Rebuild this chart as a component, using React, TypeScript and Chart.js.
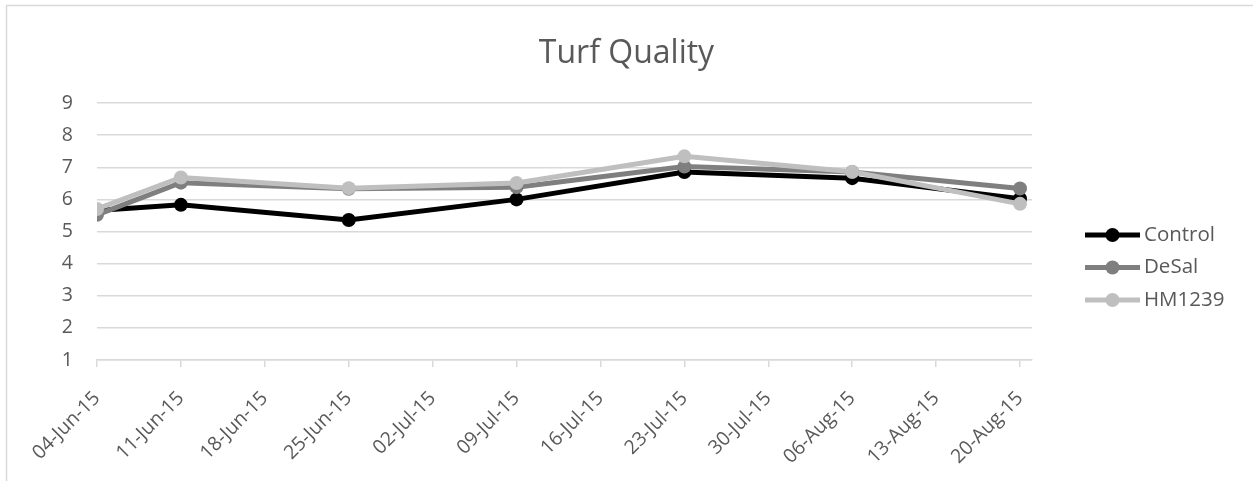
import React, { useEffect, useRef } from "react";
import { Chart, registerables } from "chart.js";

Chart.register(...registerables);

// ---- data ----
const sampleDates = ["2015-06-04", "2015-06-11", "2015-06-25", "2015-07-09", "2015-07-23", "2015-08-06", "2015-08-20"];
const controlValues = [5.65, 5.83, 5.36, 6.0, 6.85, 6.66, 6.02];
const desalValues = [5.52, 6.52, 6.33, 6.38, 7.02, 6.85, 6.34];
const hm1239Values = [5.7, 6.68, 6.35, 6.51, 7.34, 6.86, 5.86];
const seriesNames = ["Control", "DeSal", "HM1239"];
const seriesColors = ["#000000", "#7f7f7f", "#bfbfbf"];
const xTickLabels = [
  "04-Jun-15", "11-Jun-15", "18-Jun-15", "25-Jun-15", "02-Jul-15", "09-Jul-15",
  "16-Jul-15", "23-Jul-15", "30-Jul-15", "06-Aug-15", "13-Aug-15", "20-Aug-15",
];
const axisStartDate = "2015-06-04";
const axisEndDate = "2015-08-21";
const yMin = 1;
const yMax = 9;

const DAY = 86400000;
const dayOf = (s: string) => (Date.parse(s + "T00:00:00Z") - Date.parse(axisStartDate + "T00:00:00Z")) / DAY;

const FONT = "'Open Sans', 'Noto Sans', sans-serif";
const TEXT = "#595959";
const GRID = "#d9d9d9";

const legendPlugin = {
  id: "excelLegend",
  afterDraw(chart: any) {
    const ctx = chart.ctx;
    const rows = [235, 267.5, 300];
    const x0 = 1085;
    const x1 = 1140;
    ctx.save();
    chart.data.datasets.forEach((ds: any, i: number) => {
      const y = rows[i];
      ctx.strokeStyle = ds.borderColor;
      ctx.lineWidth = 5;
      ctx.beginPath();
      ctx.moveTo(x0, y);
      ctx.lineTo(x1, y);
      ctx.stroke();
      ctx.fillStyle = ds.borderColor;
      ctx.beginPath();
      ctx.arc((x0 + x1) / 2, y, 7, 0, Math.PI * 2);
      ctx.fill();
      ctx.fillStyle = TEXT;
      ctx.font = `20.5px ${FONT}`;
      ctx.textBaseline = "middle";
      ctx.textAlign = "left";
      ctx.fillText(ds.label, x1 + 4, y);
    });
    ctx.restore();
  },
};

const borderPlugin = {
  id: "outerBorder",
  beforeDraw(chart: any) {
    const ctx = chart.ctx;
    ctx.save();
    ctx.fillStyle = "#ffffff";
    ctx.fillRect(0, 0, chart.width, chart.height);
    ctx.strokeStyle = GRID;
    ctx.lineWidth = 1.5;
    ctx.strokeRect(6.5, 5.5, chart.width + 20, chart.height + 20);
    ctx.restore();
  },
};

export default function App() {
  const ref = useRef<HTMLCanvasElement | null>(null);

  useEffect(() => {
    if (!ref.current) return;
    const series = [controlValues, desalValues, hm1239Values];
    const chart = new Chart(ref.current, {
      type: "line",
      data: {
        datasets: series.map((vals, i) => ({
          label: seriesNames[i],
          data: vals.map((v, j) => ({ x: dayOf(sampleDates[j]), y: v })),
          borderColor: seriesColors[i],
          backgroundColor: seriesColors[i],
          pointBackgroundColor: seriesColors[i],
          pointBorderWidth: 0,
          pointRadius: 7,
          borderWidth: 5,
          tension: 0,
          order: series.length - i,
          yAxisID: "y",
        })),
      },
      options: {
        responsive: false,
        animation: false,
        layout: { padding: 0 },
        plugins: {
          legend: { display: false },
          tooltip: { enabled: false },
          title: {
            display: true,
            text: "Turf Quality",
            color: TEXT,
            font: { family: FONT, size: 32, weight: "normal" },
            padding: { top: 35, bottom: 29.6 },
          },
        },
        scales: {
          x: {
            type: "linear",
            min: dayOf(axisStartDate),
            max: dayOf(axisEndDate),
            afterFit: (s: any) => { s.height = 121; },
            ticks: {
              stepSize: 7,
              includeBounds: false,
              autoSkip: false,
              maxRotation: 45,
              minRotation: 45,
              color: TEXT,
              font: { family: FONT, size: 19.5 },
              padding: 20,
              callback: (_v: any, idx: number) => xTickLabels[idx],
            },
            grid: { drawOnChartArea: false, drawTicks: true, tickLength: 7, color: GRID, lineWidth: 1.5 },
            border: { display: true, color: GRID, width: 1.5 },
          },
          y: {
            min: yMin,
            max: yMax,
            afterFit: (s: any) => { s.width = 97; },
            ticks: { stepSize: 1, color: TEXT, font: { family: FONT, size: 19.5 }, padding: 24 },
            grid: { drawTicks: false, color: GRID, lineWidth: 1.5 },
            border: { display: false },
          },
          legendSpace: {
            type: "linear",
            position: "right",
            display: true,
            min: 0,
            max: 1,
            afterFit: (s: any) => { s.width = 221; },
            ticks: { display: false },
            grid: { display: false },
            border: { display: false },
          },
        },
      },
      plugins: [borderPlugin, legendPlugin],
    });
    return () => chart.destroy();
  }, []);

  return (
    <div style={{ position: "fixed", left: 0, top: 0, width: 1253, height: 481 }}>
      <canvas ref={ref} width={1253} height={481} />
    </div>
  );
}
